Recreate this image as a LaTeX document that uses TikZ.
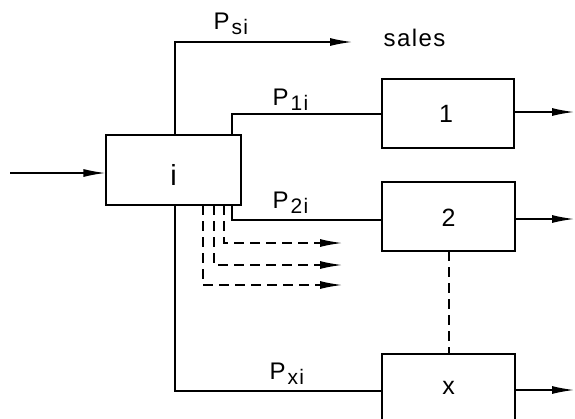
\documentclass[tikz,border=0pt]{standalone}
\usepackage{fontspec}
\setmainfont{Liberation Sans}[LetterSpace=6]
\usetikzlibrary{arrows.meta}
\newcommand{\psub}[1]{P\kern2pt\raisebox{-5pt}{\fontsize{21}{21}\selectfont #1}}
\begin{document}
\begin{tikzpicture}[x=1pt,y=-1pt,
  line width=1.3pt,
  box/.style={draw,rectangle,inner sep=0pt},
  lbl/.style={font=\fontsize{24}{28}\selectfont,inner sep=0pt},
  blbl/.style={font=\fontsize{25}{28}\selectfont,inner sep=0pt},
  arr/.style={-{Latex[length=22pt,width=8pt]}},
  dsh/.style={dash pattern=on 10pt off 6pt}]
\useasboundingbox (0,0) rectangle (575,418);
\begin{scope}
\clip (0,0) rectangle (575,418);
% boxes
\node[box,minimum width=135pt,minimum height=70pt] (i) at (173.5,170) {};
\node[blbl,font=\fontsize{29}{32}\selectfont] (il) at (173.5,175) {i};
\node[box,minimum width=132pt,minimum height=69pt] (b1) at (448,113.5) {};
\node[blbl] (b1l) at (446,114) {1};
\node[box,minimum width=133pt,minimum height=69pt] (b2) at (448.5,216.5) {};
\node[blbl] (b2l) at (448.5,218) {2};
\node[box,minimum width=133pt,minimum height=80pt] (bx) at (448.5,394) {};
\node[blbl] (bxl) at (448.5,388) {x};
% coordinates
\coordinate (in) at (10,173);
\coordinate (s0) at (175,135);
\coordinate (s1) at (175,42);
\coordinate (s2) at (352,42);
\coordinate (p10) at (232,135);
\coordinate (p11) at (232,114);
\coordinate (p20) at (232,205);
\coordinate (p21) at (232,220);
\coordinate (x0) at (175,205);
\coordinate (x1) at (175,391);
\coordinate (da0) at (224,205);
\coordinate (da1) at (224,243);
\coordinate (da2) at (342,243);
\coordinate (db0) at (214,205);
\coordinate (db1) at (214,265);
\coordinate (db2) at (342,265);
\coordinate (dc0) at (203,205);
\coordinate (dc1) at (203,285);
\coordinate (dc2) at (342,285);
\coordinate (o1) at (574,112);
\coordinate (o2) at (574,219);
\coordinate (ox) at (574,390);
\coordinate (dv0) at (449,251);
\coordinate (dv1) at (449,354);
% connectors
\draw[arr] (in) -- (in -| i.west);
\draw[arr] (s0) -- (s1) -- (s2);
\draw (p10) -- (p11) -- (p11 -| b1.west);
\draw (p20) -- (p21) -- (p21 -| b2.west);
\draw (x0) -- (x1) -- (x1 -| bx.west);
\draw[arr,dsh] (da0) -- (da1) -- (da2);
\draw[arr,dsh] (db0) -- (db1) -- (db2);
\draw[arr,dsh] (dc0) -- (dc1) -- (dc2);
\draw[arr] (o1 -| b1.east) -- (o1);
\draw[arr] (o2 -| b2.east) -- (o2);
\draw[arr] (ox -| bx.east) -- (ox);
\draw[dsh] (dv0) -- (dv1);
% labels
\node[lbl,anchor=base west] (ps) at (213,29) {\psub{si}};
\node[lbl,anchor=base west] (sal) at (383,46) {sales};
\node[lbl,anchor=base west] (p1) at (272,105) {\psub{1i}};
\node[lbl,anchor=base west] (p2) at (272,208) {\psub{2i}};
\node[lbl,anchor=base west] (px) at (269,379) {\psub{xi}};
\end{scope}
\end{tikzpicture}
\end{document}
